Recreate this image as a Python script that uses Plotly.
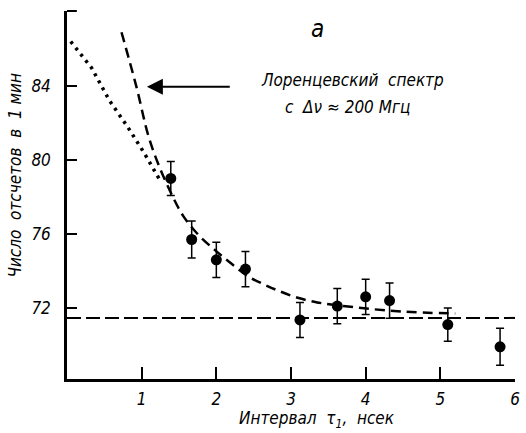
import plotly.graph_objects as go

# measured points
pt_x = [1.39, 1.67, 2.0, 2.39, 3.12, 3.62, 4.0, 4.32, 5.1, 5.8]
pt_y = [79.0, 75.7, 74.6, 74.1, 71.35, 72.1, 72.6, 72.4, 71.1, 69.9]
pt_err = [0.92, 1.0, 0.95, 0.95, 0.95, 0.95, 0.95, 0.95, 0.9, 1.0]

# Lorentzian-spectrum dashed curve
lor_x = [0.73, 0.93, 1.09, 1.23, 1.43, 1.56, 1.76, 1.99, 2.2, 2.43, 2.65, 2.85, 3.09, 3.35, 3.62, 3.98, 4.5, 5.2]
lor_y = [86.9, 83.95, 81.3, 79.7, 77.9, 76.95, 75.95, 75.1, 74.4, 73.7, 73.25, 72.9, 72.55, 72.3, 72.15, 71.98, 71.8, 71.7]

# dotted curve
dot_x = [0.05, 0.33, 0.57, 0.81, 1.03, 1.26]
dot_y = [86.4, 84.97, 83.2, 81.8, 80.4, 78.8]

# background level
bg_level = 71.46
x_range = [0, 6]
y_range = [68.16, 88.05]

x_ticks = [1, 2, 3, 4, 5, 6]
y_ticks = [72, 76, 80, 84]

FONT = "Liberation Sans Narrow, DejaVu Sans Condensed, sans-serif"

fig = go.Figure()

fig.add_trace(go.Scatter(x=x_range, y=[bg_level, bg_level], mode="lines",
                         line=dict(color="black", width=2, dash="14px,5px"),
                         hoverinfo="skip", showlegend=False))
fig.add_trace(go.Scatter(x=lor_x, y=lor_y, mode="lines", line_shape="spline",
                         line=dict(color="black", width=2.5, dash="10px,6px"),
                         showlegend=False))
fig.add_trace(go.Scatter(x=dot_x, y=dot_y, mode="lines", line_shape="linear",
                         line=dict(color="black", width=3.5, dash="3px,5px"),
                         showlegend=False))
fig.add_trace(go.Scatter(x=pt_x, y=pt_y, mode="markers",
                         marker=dict(color="black", size=11),
                         error_y=dict(type="data", array=pt_err, visible=True,
                                      color="black", thickness=1.5, width=4),
                         showlegend=False))

axis_common = dict(showline=True, linecolor="black", linewidth=2.5, showgrid=False,
                   zeroline=False, ticks="inside", tickcolor="black", tickwidth=1.5,
                   tickfont=dict(family=FONT, size=17, color="black", style="italic"))

fig.update_xaxes(range=x_range, tickvals=x_ticks, ticklen=12, ticklabelstandoff=3, **axis_common)
fig.update_yaxes(range=y_range, tickvals=y_ticks, ticklen=10, ticklabelstandoff=10, **axis_common)

txt_font = dict(family=FONT, size=17, color="black", style="italic")
annotations = [
    dict(x=3.36, y=87.1, xref="x", yref="y", text="а", showarrow=False,
         font=dict(family=FONT, size=24, color="black", style="italic")),
    dict(x=3.83, y=84.3, xref="x", yref="y", text="Лоренцевский  спектр", showarrow=False, font=txt_font),
    dict(x=3.76, y=82.86, xref="x", yref="y", text="с  Δν ≈ 200 Мгц", showarrow=False, font=txt_font),
    dict(x=1.07, y=83.95, ax=2.2, ay=83.95, xref="x", yref="y", axref="x", ayref="y",
         text="", showarrow=True, arrowhead=2, arrowsize=1.6, arrowwidth=2, arrowcolor="black"),
    dict(x=3.35, y=-0.111, xref="x", yref="paper", xanchor="center", yanchor="middle",
         text="Интервал  τ<sub>1</sub>,  нсек", showarrow=False, font=txt_font),
    dict(x=-0.115, y=0.554, xref="paper", yref="paper", xanchor="center", yanchor="middle",
         text="Число  отсчетов  в  1 мин", textangle=-90, showarrow=False, font=txt_font),
]

fig.update_layout(
    width=526, height=433,
    margin=dict(l=67, r=6, t=11, b=54),
    paper_bgcolor="white", plot_bgcolor="white",
    annotations=annotations,
    shapes=[dict(type="line", xref="paper", yref="paper", x0=0, x1=0.022, y0=1, y1=1,
                 line=dict(color="black", width=2))],
)

fig.write_html("out.html")
